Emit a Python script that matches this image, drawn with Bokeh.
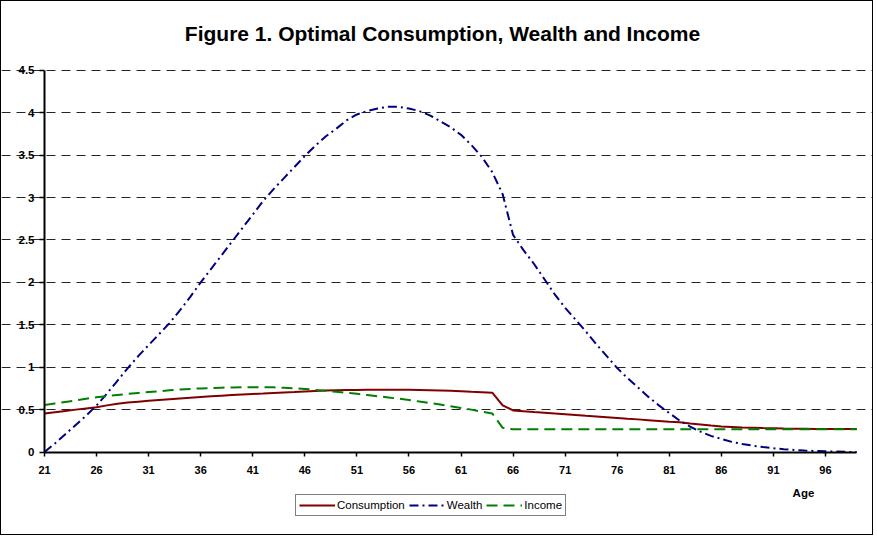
from bokeh.plotting import figure
from bokeh.models import FixedTicker, Range1d, Legend, LegendItem, Label, NumeralTickFormatter
from bokeh.embed import file_html
from bokeh.resources import INLINE

ages = list(range(21, 100))

consumption = [
    0.455, 0.47, 0.485, 0.50, 0.514, 0.528, 0.55, 0.57, 0.583, 0.594,
    0.604, 0.613, 0.622, 0.631, 0.64, 0.649, 0.657, 0.664, 0.671, 0.678,
    0.685, 0.69, 0.696, 0.702, 0.708, 0.715, 0.72, 0.724, 0.727, 0.73,
    0.732, 0.733, 0.734, 0.734, 0.734, 0.733, 0.731, 0.729, 0.726, 0.722,
    0.716, 0.71, 0.705, 0.70, 0.55, 0.49, 0.481, 0.472, 0.464, 0.455,
    0.446, 0.437, 0.428, 0.42, 0.411, 0.402, 0.393, 0.385, 0.376, 0.367,
    0.358, 0.35, 0.337, 0.325, 0.312, 0.30, 0.295, 0.29, 0.286, 0.282,
    0.279, 0.276, 0.274, 0.273, 0.272, 0.272, 0.272, 0.272, 0.272,
]

wealth = [
    0.00, 0.10, 0.21, 0.32, 0.43, 0.55, 0.69, 0.84, 0.99, 1.13,
    1.26, 1.39, 1.52, 1.67, 1.83, 2.00, 2.16, 2.32, 2.48, 2.64,
    2.80, 2.96, 3.10, 3.23, 3.36, 3.49, 3.61, 3.72, 3.81, 3.91,
    3.98, 4.02, 4.05, 4.07, 4.07, 4.05, 4.02, 3.97, 3.90, 3.83,
    3.74, 3.62, 3.48, 3.30, 3.04, 2.56, 2.38, 2.22, 2.04, 1.86,
    1.70, 1.56, 1.42, 1.27, 1.13, 0.99, 0.87, 0.76, 0.65, 0.55,
    0.46, 0.37, 0.30, 0.24, 0.19, 0.155, 0.12, 0.095, 0.075, 0.058,
    0.045, 0.034, 0.025, 0.018, 0.012, 0.008, 0.005, 0.002, 0.0,
]

income = [
    0.555, 0.573, 0.591, 0.609, 0.628, 0.646, 0.659, 0.672, 0.685, 0.697,
    0.707, 0.717, 0.727, 0.736, 0.744, 0.75, 0.755, 0.759, 0.762, 0.764,
    0.765, 0.765, 0.763, 0.758, 0.752, 0.744, 0.733, 0.722, 0.71, 0.698,
    0.686, 0.672, 0.658, 0.644, 0.629, 0.613, 0.596, 0.578, 0.56, 0.54,
    0.52, 0.50, 0.475, 0.455, 0.285, 0.268, 0.268, 0.268, 0.268, 0.268,
    0.268, 0.268, 0.268, 0.268, 0.268, 0.268, 0.268, 0.268, 0.268, 0.268,
    0.268, 0.268, 0.268, 0.268, 0.268, 0.268, 0.268, 0.268, 0.268, 0.268,
    0.268, 0.268, 0.268, 0.268, 0.268, 0.268, 0.268, 0.268, 0.268,
]

x_ticks = [21, 26, 31, 36, 41, 46, 51, 56, 61, 66, 71, 76, 81, 86, 91, 96]
y_ticks = [0, 0.5, 1, 1.5, 2, 2.5, 3, 3.5, 4, 4.5]
title_text = "Figure 1. Optimal Consumption, Wealth and Income"
x_title = "Age"

FONT = "Liberation Sans"

p = figure(
    width=873, height=535,
    x_range=Range1d(16.87, 100.71), y_range=Range1d(-0.996, 5.312),
    output_backend="svg", toolbar_location=None,
    min_border_left=0, min_border_right=0, min_border_top=0, min_border_bottom=0,
    styles={"border": "1px solid black"},
)
p.outline_line_color = None
p.background_fill_color = "white"
p.border_fill_color = "white"

p.xaxis.fixed_location = 0
p.yaxis.fixed_location = 21
p.xaxis.bounds = (21, 99)
p.yaxis.bounds = (0, 4.5)
p.xaxis.ticker = FixedTicker(ticks=x_ticks)
p.yaxis.ticker = FixedTicker(ticks=y_ticks)
p.yaxis.formatter = NumeralTickFormatter(format="0.[0]")
for ax in (p.xaxis, p.yaxis):
    ax.axis_line_color = "black"
    ax.axis_line_width = 2
    ax.major_tick_line_color = "black"
    ax.major_tick_line_width = 1.5
    ax.major_tick_in = 0
    ax.minor_tick_line_color = None
    ax.major_label_text_font = FONT
    ax.major_label_text_font_style = "bold"
    ax.major_label_text_color = "black"
p.xaxis.major_tick_out = 4
p.yaxis.major_tick_out = 5
p.xaxis.major_label_text_font_size = "11px"
p.yaxis.major_label_text_font_size = "11.5px"
p.xaxis.major_label_standoff = 10
p.yaxis.major_label_standoff = 5
p.yaxis.major_label_text_align = "right"
p.yaxis.major_label_text_baseline = "middle"

p.xgrid.grid_line_color = None
p.ygrid.ticker = FixedTicker(ticks=y_ticks[1:])
p.ygrid.bounds = (21, 99)
p.ygrid.grid_line_color = "black"
p.ygrid.grid_line_width = 1
p.ygrid.grid_line_dash = "9 6"
p.ygrid.grid_line_alpha = 0.85

r_c = p.line(ages, consumption, line_color="#800000", line_width=2)
r_w = p.line(ages, wealth, line_color="#000080", line_width=2, line_dash="9 4 2 4")
r_i = p.line(ages, income, line_color="#008000", line_width=2, line_dash="11 6")

p.add_layout(Label(
    x=59.22, y=4.935, text=title_text, text_align="center", text_baseline="middle",
    text_font=FONT, text_font_size="21px", text_font_style="bold", text_color="black",
))
p.add_layout(Label(
    x=93.89, y=-0.489, text=x_title, text_align="center", text_baseline="middle",
    text_font=FONT, text_font_size="11.5px", text_font_style="bold", text_color="black",
))

legend = Legend(
    items=[
        LegendItem(label="Consumption", renderers=[r_c]),
        LegendItem(label="Wealth", renderers=[r_w]),
        LegendItem(label="Income", renderers=[r_i]),
    ],
    orientation="horizontal",
    location=(294, 20),
    label_text_font=FONT,
    label_text_font_size="11.5px",
    label_text_color="black",
    glyph_width=36, glyph_height=14,
    label_height=14, label_standoff=2, spacing=4,
    padding=3, margin=0,
    border_line_color="black", border_line_width=1,
    background_fill_color="white", background_fill_alpha=1,
)
p.add_layout(legend, "center")

open("out.html", "w").write(file_html(p, INLINE))
